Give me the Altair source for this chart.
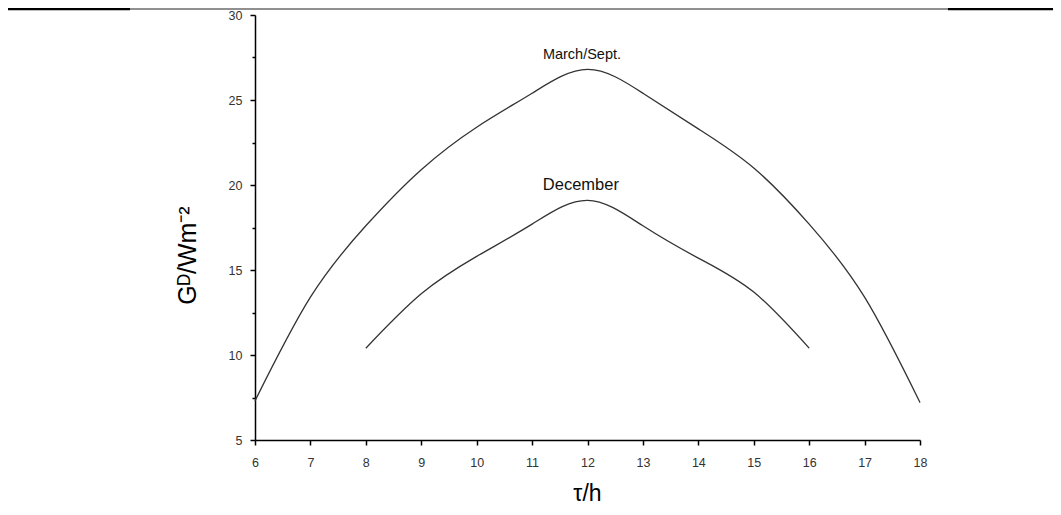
import altair as alt
import pandas as pd

# data
hours_ms = [6, 7, 8, 9, 10, 11, 12, 13, 14, 15, 16, 17, 18]
g_ms = [7.3, 13.4, 17.6, 20.9, 23.4, 25.4, 26.8, 25.4, 23.3, 21.0, 17.7, 13.4, 7.2]
hours_dec = [8, 9, 10, 11, 12, 13, 14, 15, 16]
g_dec = [10.4, 13.6, 15.8, 17.7, 19.1, 17.6, 15.7, 13.7, 10.4]

label_text = ["March/Sept.", "December"]
label_x = [11.9, 11.88]
label_y = [27.65, 20.0]
label_size = [14.5, 16.5]

x_ticks = [6 + 0.5 * i for i in range(25)]
y_ticks = [5 + 2.5 * i for i in range(11)]

df = pd.concat([
    pd.DataFrame({"hour": hours_ms, "G": g_ms, "series": "March/Sept."}),
    pd.DataFrame({"hour": hours_dec, "G": g_dec, "series": "December"}),
])
df_lab = pd.DataFrame({"hour": label_x, "G": label_y, "text": label_text, "size": label_size})

x_scale = alt.Scale(domain=[6, 18], nice=False, zero=False)
y_scale = alt.Scale(domain=[5, 30], nice=False, zero=False)

x_axis = alt.Axis(
    values=x_ticks,
    labelExpr="datum.value % 1 == 0 ? format(datum.value, 'd') : ''",
    tickSize={"condition": {"test": "datum.value % 1 != 0", "value": 3}, "value": 5},
    labelPadding=11,
    labelFlush=False,
    title="τ/h",
    titleFontSize=23,
    titleFontWeight="normal",
    titleFont="Liberation Sans",
    titleBaseline="middle",
    titleY=53,
    titleX=332,
)
y_axis = alt.Axis(
    values=y_ticks,
    labelExpr="datum.value % 5 == 0 ? format(datum.value, 'd') : ''",
    tickSize={"condition": {"test": "datum.value % 5 != 0", "value": 3}, "value": 5},
    labelPadding=8,
    labelFlush=False,
    title="Gᴰ/Wm⁻²",
    titleFontSize=25,
    titleFontWeight="normal",
    titleFont="Liberation Sans",
    titleBaseline="middle",
    titleX=-68,
    titleY=240,
    titleAngle=270,
)

lines = alt.Chart(df).mark_line(interpolate="natural", color="#333333", strokeWidth=1.3).encode(
    x=alt.X("hour:Q", scale=x_scale, axis=x_axis),
    y=alt.Y("G:Q", scale=y_scale, axis=y_axis),
    detail="series:N",
)

labels = alt.Chart(df_lab).mark_text(font="Liberation Sans", color="#111111", baseline="middle").encode(
    x=alt.X("hour:Q", scale=x_scale),
    y=alt.Y("G:Q", scale=y_scale),
    text="text:N",
    size=alt.Size("size:Q", scale=None, legend=None),
)

top_line = alt.Chart(pd.DataFrame({"k": [0]})).mark_rule(color="#222222", strokeWidth=1.2).encode(
    x=alt.value(-247), x2=alt.value(798), y=alt.value(-6)
)
top_thick = alt.Chart(pd.DataFrame({"a": [-247, 693], "b": [-125, 798]})).mark_rule(
    color="#000000", strokeWidth=2.5
).encode(x=alt.X("a:Q", scale=None), x2="b:Q", y=alt.value(-6))

chart = alt.layer(lines, labels, top_line, top_thick).properties(
    width=665,
    height=425,
    autosize=alt.AutoSizeParams(type="none"),
    padding={"left": 247, "top": 7, "right": 133, "bottom": 67},
).configure_view(stroke=None).configure_axis(
    grid=False,
    domainColor="#000000",
    domainWidth=1.5,
    tickColor="#000000",
    tickWidth=1.5,
    labelFont="Liberation Sans",
    labelFontSize=12.5,
    labelColor="#333333",
    titleColor="#000000",
)

chart.save("out.html", embed_options={"renderer": "svg", "actions": False})
